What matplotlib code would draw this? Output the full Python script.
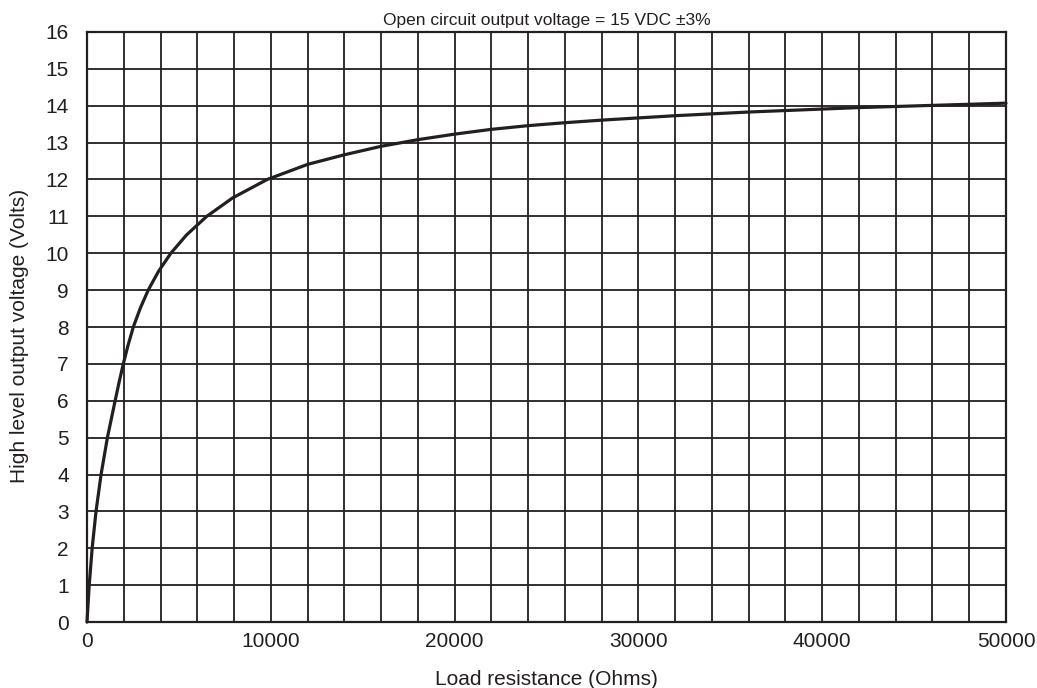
import matplotlib
matplotlib.use("Agg")
import matplotlib.pyplot as plt

plt.rcParams['font.family'] = ['Liberation Sans', 'DejaVu Sans']

# Load resistance (Ohms) and the resulting high level output voltage (Volts)
load_resistance = [0, 120, 280, 490, 765, 1110, 1530, 1745, 1975, 2230, 2520,
                   2890, 3330, 3880, 4560, 5420, 6513, 7920, 9800, 12000,
                   14000, 16000, 18000, 20000, 22000, 24000, 26000, 28000,
                   30000, 32000, 34000, 36000, 38000, 40000, 42000, 44000,
                   46000, 48000, 50000]
output_voltage = [0, 1, 2, 3, 4, 5, 6, 6.5, 7, 7.5, 8,
                  8.5, 9, 9.5, 10, 10.5, 11, 11.5, 12, 12.41,
                  12.67, 12.9, 13.08, 13.23, 13.36, 13.46, 13.54, 13.61,
                  13.67, 13.73, 13.78, 13.83, 13.87, 13.91, 13.95, 13.98,
                  14.01, 14.04, 14.07]

x_grid = list(range(0, 50001, 2000))
x_labels = [0, 10000, 20000, 30000, 40000, 50000]
y_ticks = list(range(0, 17))

ink = '#231f20'

fig = plt.figure(figsize=(10.37, 6.88), dpi=100)
ax = fig.add_axes([0.0839, 0.0959, 0.9701 - 0.0839, 0.9535 - 0.0959])

ax.plot(load_resistance, output_voltage, color=ink, lw=2.3,
        solid_joinstyle='round', solid_capstyle='round', zorder=3, clip_on=False)

ax.set_xlim(0, 50000)
ax.set_ylim(0, 16)
ax.grid(True, which='major', color=ink, lw=1.3)
ax.set_axisbelow(True)

ax.set_xticks(x_grid)
ax.set_xticklabels([str(t) if t in x_labels else '' for t in x_grid])
ax.set_yticks(y_ticks)
ax.set_yticklabels([str(t) for t in y_ticks])
ax.tick_params(axis='both', length=0, labelsize=15, colors=ink)
ax.tick_params(axis='y', pad=13)
ax.tick_params(axis='x', pad=7)

for s in ax.spines.values():
    s.set_color(ink)
    s.set_linewidth(1.6)

ax.set_xlabel('Load resistance (Ohms)', fontsize=15, color=ink, labelpad=14)
ax.set_ylabel('High level output voltage (Volts)', fontsize=15, color=ink)
ax.yaxis.set_label_coords(-0.0627, 0.485)
ax.set_title('Open circuit output voltage = 15 VDC \u00b13%', fontsize=12.5,
             color=ink, pad=5)

fig.savefig('out.png', dpi=100, facecolor='white')
